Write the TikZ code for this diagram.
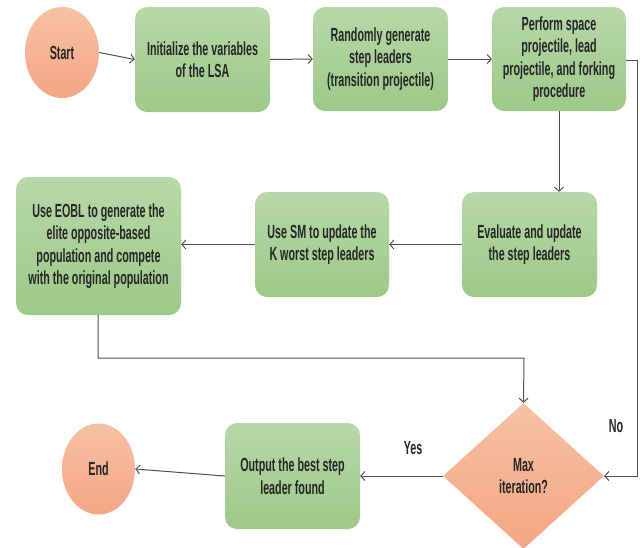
\documentclass[tikz,border=0pt]{standalone}
\usepackage{fontspec}
\setmainfont{Liberation Sans}[FakeStretch=0.565]
\usetikzlibrary{shapes.geometric,arrows.meta}
\definecolor{gtop}{RGB}{183,216,168}
\definecolor{gbot}{RGB}{157,201,136}
\definecolor{otop}{RGB}{246,193,164}
\definecolor{obot}{RGB}{244,166,132}
\definecolor{lnc}{RGB}{80,80,80}
\tikzset{
  txt/.style={font=\fontsize{19}{22.5}\selectfont\bfseries, align=center, text=black!85},
  gbox/.style={txt, rectangle, rounded corners=12pt, top color=gtop, bottom color=gbot, draw=none, inner sep=0pt},
  oval/.style={txt, ellipse, top color=otop, bottom color=obot, draw=none, inner sep=0pt},
  dia/.style={txt, diamond, top color=otop, bottom color=obot, draw=none, inner sep=0pt},
  conn/.style={draw=lnc, line width=1pt, -{Straight Barb[length=4pt,width=9pt]}},
  lbl/.style={font=\fontsize{19}{22.5}\selectfont\bfseries, text=black!85}
}
\begin{document}
\begin{tikzpicture}[x=1pt,y=-1pt]
\useasboundingbox (0,0) rectangle (640,547);
\node[oval, minimum width=74pt, minimum height=91pt] (start) at (62,52.5) {Start};
\node[gbox, minimum width=135pt, minimum height=105pt] (init) at (202.5,59.5) {Initialize the variables\\of the LSA};
\node[gbox, minimum width=135pt, minimum height=104pt] (rand) at (380.5,59) {Randomly generate\\step leaders\\(transition projectile)};
\node[gbox, minimum width=134pt, minimum height=104pt] (perf) at (559,59) {Perform space\\projectile, lead\\projectile, and forking\\procedure};
\node[gbox, minimum width=135pt, minimum height=105pt] (eval) at (529.5,244.5) {Evaluate and update\\the step leaders};
\node[gbox, minimum width=134pt, minimum height=105pt] (sm) at (322,244.5) {Use SM to update the\\K worst step leaders};
\node[gbox, minimum width=165pt, minimum height=138pt] (eobl) at (98.5,246) {Use EOBL to generate the\\elite opposite-based\\population and compete\\with the original population};
\node[dia, minimum width=161pt, minimum height=146pt] (dec) at (523.5,476) {Max\\iteration?};
\node[gbox, minimum width=135pt, minimum height=106pt] (out) at (292.5,476) {Output the best step\\leader found};
\node[oval, minimum width=73pt, minimum height=91pt] (end) at (98.5,469) {End};
\coordinate (r1) at (637,60);
\coordinate (r2) at (637,476);
\coordinate (b1) at (98,358);
\coordinate (b2) at (524,358);
\draw[conn] (start.east) -- (init.west);
\draw[conn] (init.east) -- (rand.west);
\draw[conn] (rand.east) -- (perf.west);
\draw[conn] (perf.south) -- (perf.south |- eval.north);
\draw[conn] (perf.east |- r1) -- (r1) -- (r2) -- (dec.east);
\draw[conn] (eval.west) -- (sm.east);
\draw[conn] (sm.west) -- (eobl.east |- sm.west);
\draw[conn] (eobl.south -| b1) -- (b1) -- (b2) -- (dec.north);
\draw[conn] (dec.west) -- (out.east);
\draw[conn] (out.west) -- (end.east);
\node[lbl] (yes) at (413,448) {Yes};
\node[lbl] (no) at (616,426) {No};
\end{tikzpicture}
\end{document}
